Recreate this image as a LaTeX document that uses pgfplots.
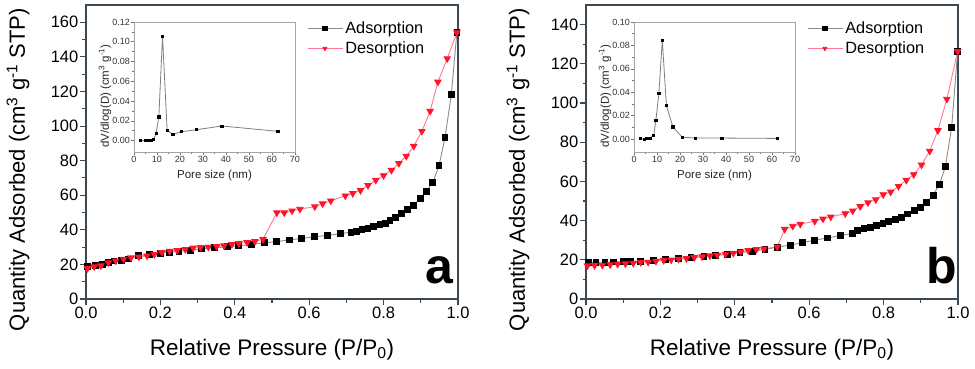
\documentclass[border=0pt]{standalone}
\usepackage{fontspec}
\setmainfont{Liberation Sans}
\usepackage{pgfplots}
\pgfplotsset{compat=1.18}
\definecolor{frame}{RGB}{60,72,82}
\definecolor{adsline}{RGB}{140,140,140}
\definecolor{desline}{RGB}{255,120,150}
\definecolor{desmark}{RGB}{255,20,40}
\definecolor{insetframe}{RGB}{160,166,168}

\pgfplotsset{
  mainax/.style={
    scale only axis, width=372pt, height=294pt,
    axis line style={frame, line width=1.3pt},
    tick style={frame, line width=1.1pt},
    tick align=outside, tick pos=left,
    major tick length=6pt, minor tick length=3.5pt,
    minor tick num=1,
    xmin=0, xmax=1.0, xtick={0,0.2,...,1.0},
    xticklabel style={/pgf/number format/.cd, fixed, fixed zerofill, precision=1},
    ticklabel style={font=\fontsize{16.5}{18}\selectfont, inner sep=1.5pt},
    /pgf/number format/assume math mode=true,
    every axis x label/.style={at={(rel axis cs:0.5,0)}, yshift=-56pt, anchor=base,
      font=\fontsize{22.5}{24}\selectfont},
    every axis y label/.style={at={(rel axis cs:0,0.44)}, xshift=-68pt, rotate=90, anchor=center,
      font=\fontsize{22}{24}\selectfont},
    xlabel={Relative Pressure (P/P\textsubscript{0})},
    ylabel={Quantity Adsorbed (cm\textsuperscript{3} g\textsuperscript{-1} STP)},
    legend style={at={(0.915,0.95)}, anchor=north east, draw=none, fill=none,
      font=\fontsize{16.3}{17}\selectfont, row sep=2.5pt, inner sep=0pt},
    legend cell align=left,
    legend image code/.code={
      \draw[mark repeat=2, mark phase=2, mark size=2.2pt] plot coordinates {(0pt,0pt) (17pt,0pt) (35pt,0pt)};
    },
  },
  ads/.style={adsline, line width=0.9pt, mark=square*, mark size=2.9pt,
    mark options={fill=black, draw=black, solid}},
  des/.style={desline, line width=0.9pt, mark=triangle*, mark size=3.6pt,
    mark options={fill=desmark, draw=desmark, rotate=180, solid}},
  insetax/.style={
    scale only axis, width=161pt, height=130pt,
    axis background/.style={fill=white},
    axis line style={insetframe, line width=0.8pt},
    tick style={insetframe!70!black, line width=0.6pt},
    tick align=outside, tick pos=left,
    major tick length=3pt, minor tick length=1.8pt,
    minor tick num=1,
    xmin=0, xmax=70, xtick={0,10,...,70},
    yticklabel style={/pgf/number format/.cd, fixed, fixed zerofill, precision=2},
    ticklabel style={font=\fontsize{9}{10}\selectfont, inner sep=1pt, black!80},
    /pgf/number format/assume math mode=true,
    every axis x label/.style={at={(rel axis cs:0.5,0)}, yshift=-26pt, anchor=base,
      font=\fontsize{11.5}{12}\selectfont, black!85},
    every axis y label/.style={at={(rel axis cs:0,0.43)}, xshift=-29pt, rotate=90, anchor=center,
      font=\fontsize{11.5}{12}\selectfont, black!85},
    xlabel={Pore size (nm)},
    ylabel={dV/dlog(D) (cm\textsuperscript{3} g\textsuperscript{-1})},
  },
  psd/.style={adsline!90!black, line width=0.8pt, mark=square*, mark size=1.1pt,
    mark options={fill=black, draw=black}},
}

\begin{document}
\begin{tikzpicture}
\useasboundingbox (0,0) rectangle (975pt,368pt);

% ---------------- panel a ----------------
\begin{axis}[mainax, at={(86pt,69pt)}, anchor=south west,
  ymin=0, ymax=170, ytick={0,20,...,160}]
\addplot[ads] coordinates {
 (0.004,18.7) (0.025,19.3) (0.045,20.0) (0.060,21.0) (0.075,22.0) (0.095,22.5)
 (0.115,23.2) (0.140,25.0) (0.170,25.8) (0.200,26.5) (0.225,27.0) (0.250,27.5)
 (0.280,28.2) (0.310,29.0) (0.345,29.6) (0.380,30.2) (0.410,30.8) (0.445,31.5)
 (0.480,32.5) (0.513,33.2) (0.547,34.2) (0.580,35.0) (0.615,36.0) (0.649,36.8)
 (0.683,37.7) (0.712,38.7) (0.727,39.2) (0.742,40.2) (0.758,41.0) (0.773,41.8)
 (0.790,42.9) (0.804,43.9) (0.817,45.2) (0.832,47.2) (0.848,49.5) (0.865,51.6)
 (0.881,54.3) (0.899,58.3) (0.915,62.4) (0.932,67.4) (0.949,77.0) (0.965,93.2)
 (0.982,118.2) (0.997,154.0)
};
\addplot[des] coordinates {
 (0.997,154.0) (0.971,139.0) (0.946,125.5) (0.925,108.6) (0.903,97.0) (0.881,88.4)
 (0.861,82.6) (0.841,78.4) (0.821,74.5) (0.800,71.4) (0.779,68.7) (0.758,65.7)
 (0.738,62.8) (0.717,61.1) (0.697,59.7) (0.658,56.8) (0.636,55.1) (0.615,53.4)
 (0.575,52.0) (0.554,51.0) (0.533,49.9) (0.513,49.9) (0.476,34.5) (0.454,33.3)
 (0.433,32.7) (0.411,32.1) (0.392,31.6) (0.371,30.8) (0.351,30.4) (0.329,30.0)
 (0.308,29.8) (0.288,29.5) (0.267,28.7) (0.245,28.1) (0.225,27.7) (0.204,27.0)
 (0.184,25.8) (0.164,25.0) (0.142,24.4) (0.121,23.9) (0.101,23.1) (0.080,22.1)
 (0.060,21.0) (0.040,19.3) (0.022,18.7) (0.004,17.7)
};
\legend{Adsorption, Desorption}
\node[anchor=base, font=\fontsize{50}{50}\selectfont\bfseries] at (rel axis cs:0.95,0.054) {a};
\end{axis}

\begin{axis}[insetax, at={(134pt,216pt)}, anchor=south west,
  ymin=-0.0115, ymax=0.12, ytick={0,0.02,...,0.12}]
\addplot[psd] coordinates {
 (2.9,0.0000) (4.8,0.0000) (6.3,0.0000) (7.4,0.0003) (8.5,0.0010) (9.6,0.0070)
 (10.8,0.0240) (12.4,0.1055) (14.4,0.0105) (16.9,0.0064) (20.7,0.0090)
 (27.0,0.0110) (38.2,0.0148) (62.6,0.0094)
};
\end{axis}

% ---------------- panel b ----------------
\begin{axis}[mainax, at={(586pt,69pt)}, anchor=south west,
  ymin=0, ymax=150, ytick={0,20,...,140}]
\addplot[ads] coordinates {
 (0.006,18.6) (0.027,18.7) (0.051,18.8) (0.074,18.9) (0.100,19.0) (0.119,19.1)
 (0.147,19.3) (0.181,19.7) (0.213,20.2) (0.249,20.7) (0.282,21.2) (0.317,21.7)
 (0.349,22.2) (0.381,22.9) (0.414,23.6) (0.448,24.4) (0.481,25.3) (0.514,26.5)
 (0.549,27.5) (0.581,28.7) (0.614,30.0) (0.649,31.1) (0.683,32.4) (0.716,33.4)
 (0.730,34.8) (0.747,35.8) (0.764,36.7) (0.781,37.5) (0.798,38.4) (0.814,39.4)
 (0.831,40.4) (0.847,41.7) (0.865,43.4) (0.883,45.0) (0.898,46.8) (0.915,49.2)
 (0.933,52.9) (0.950,58.5) (0.966,67.5) (0.983,87.7) (0.999,126.3)
};
\addplot[des] coordinates {
 (0.999,126.3) (0.970,102.0) (0.946,86.0) (0.924,75.5) (0.902,68.4) (0.881,63.5)
 (0.861,60.6) (0.840,57.5) (0.819,54.6) (0.799,53.3) (0.779,50.7) (0.758,49.2)
 (0.737,47.2) (0.717,45.0) (0.697,43.6) (0.658,41.9) (0.637,40.9) (0.615,39.7)
 (0.576,38.2) (0.556,37.2) (0.534,35.6) (0.514,26.6) (0.478,25.6) (0.458,25.3)
 (0.436,24.8) (0.416,24.1) (0.396,23.4) (0.375,22.9) (0.353,22.4) (0.333,22.1)
 (0.312,21.6) (0.291,21.2) (0.270,20.7) (0.249,20.4) (0.229,20.0) (0.209,19.7)
 (0.188,19.3) (0.167,18.8) (0.147,18.7) (0.127,18.3) (0.106,18.0) (0.085,17.8)
 (0.065,17.5) (0.044,17.3) (0.023,17.1) (0.004,17.0)
};
\legend{Adsorption, Desorption}
\node[anchor=base, font=\fontsize{50}{50}\selectfont\bfseries] at (rel axis cs:0.957,0.054) {b};
\end{axis}

\begin{axis}[insetax, at={(634pt,216pt)}, anchor=south west,
  ymin=-0.011, ymax=0.10, ytick={0,0.02,...,0.10}]
\addplot[psd] coordinates {
 (2.8,0.0003) (4.4,0.0000) (5.5,0.0003) (6.9,0.0009) (8.6,0.0034) (9.5,0.0160)
 (10.8,0.0387) (12.3,0.0843) (14.1,0.0285) (16.9,0.0105) (20.9,0.0017)
 (26.8,0.0009) (38.2,0.0009) (62.4,0.0006)
};
\end{axis}
\end{tikzpicture}
\end{document}
